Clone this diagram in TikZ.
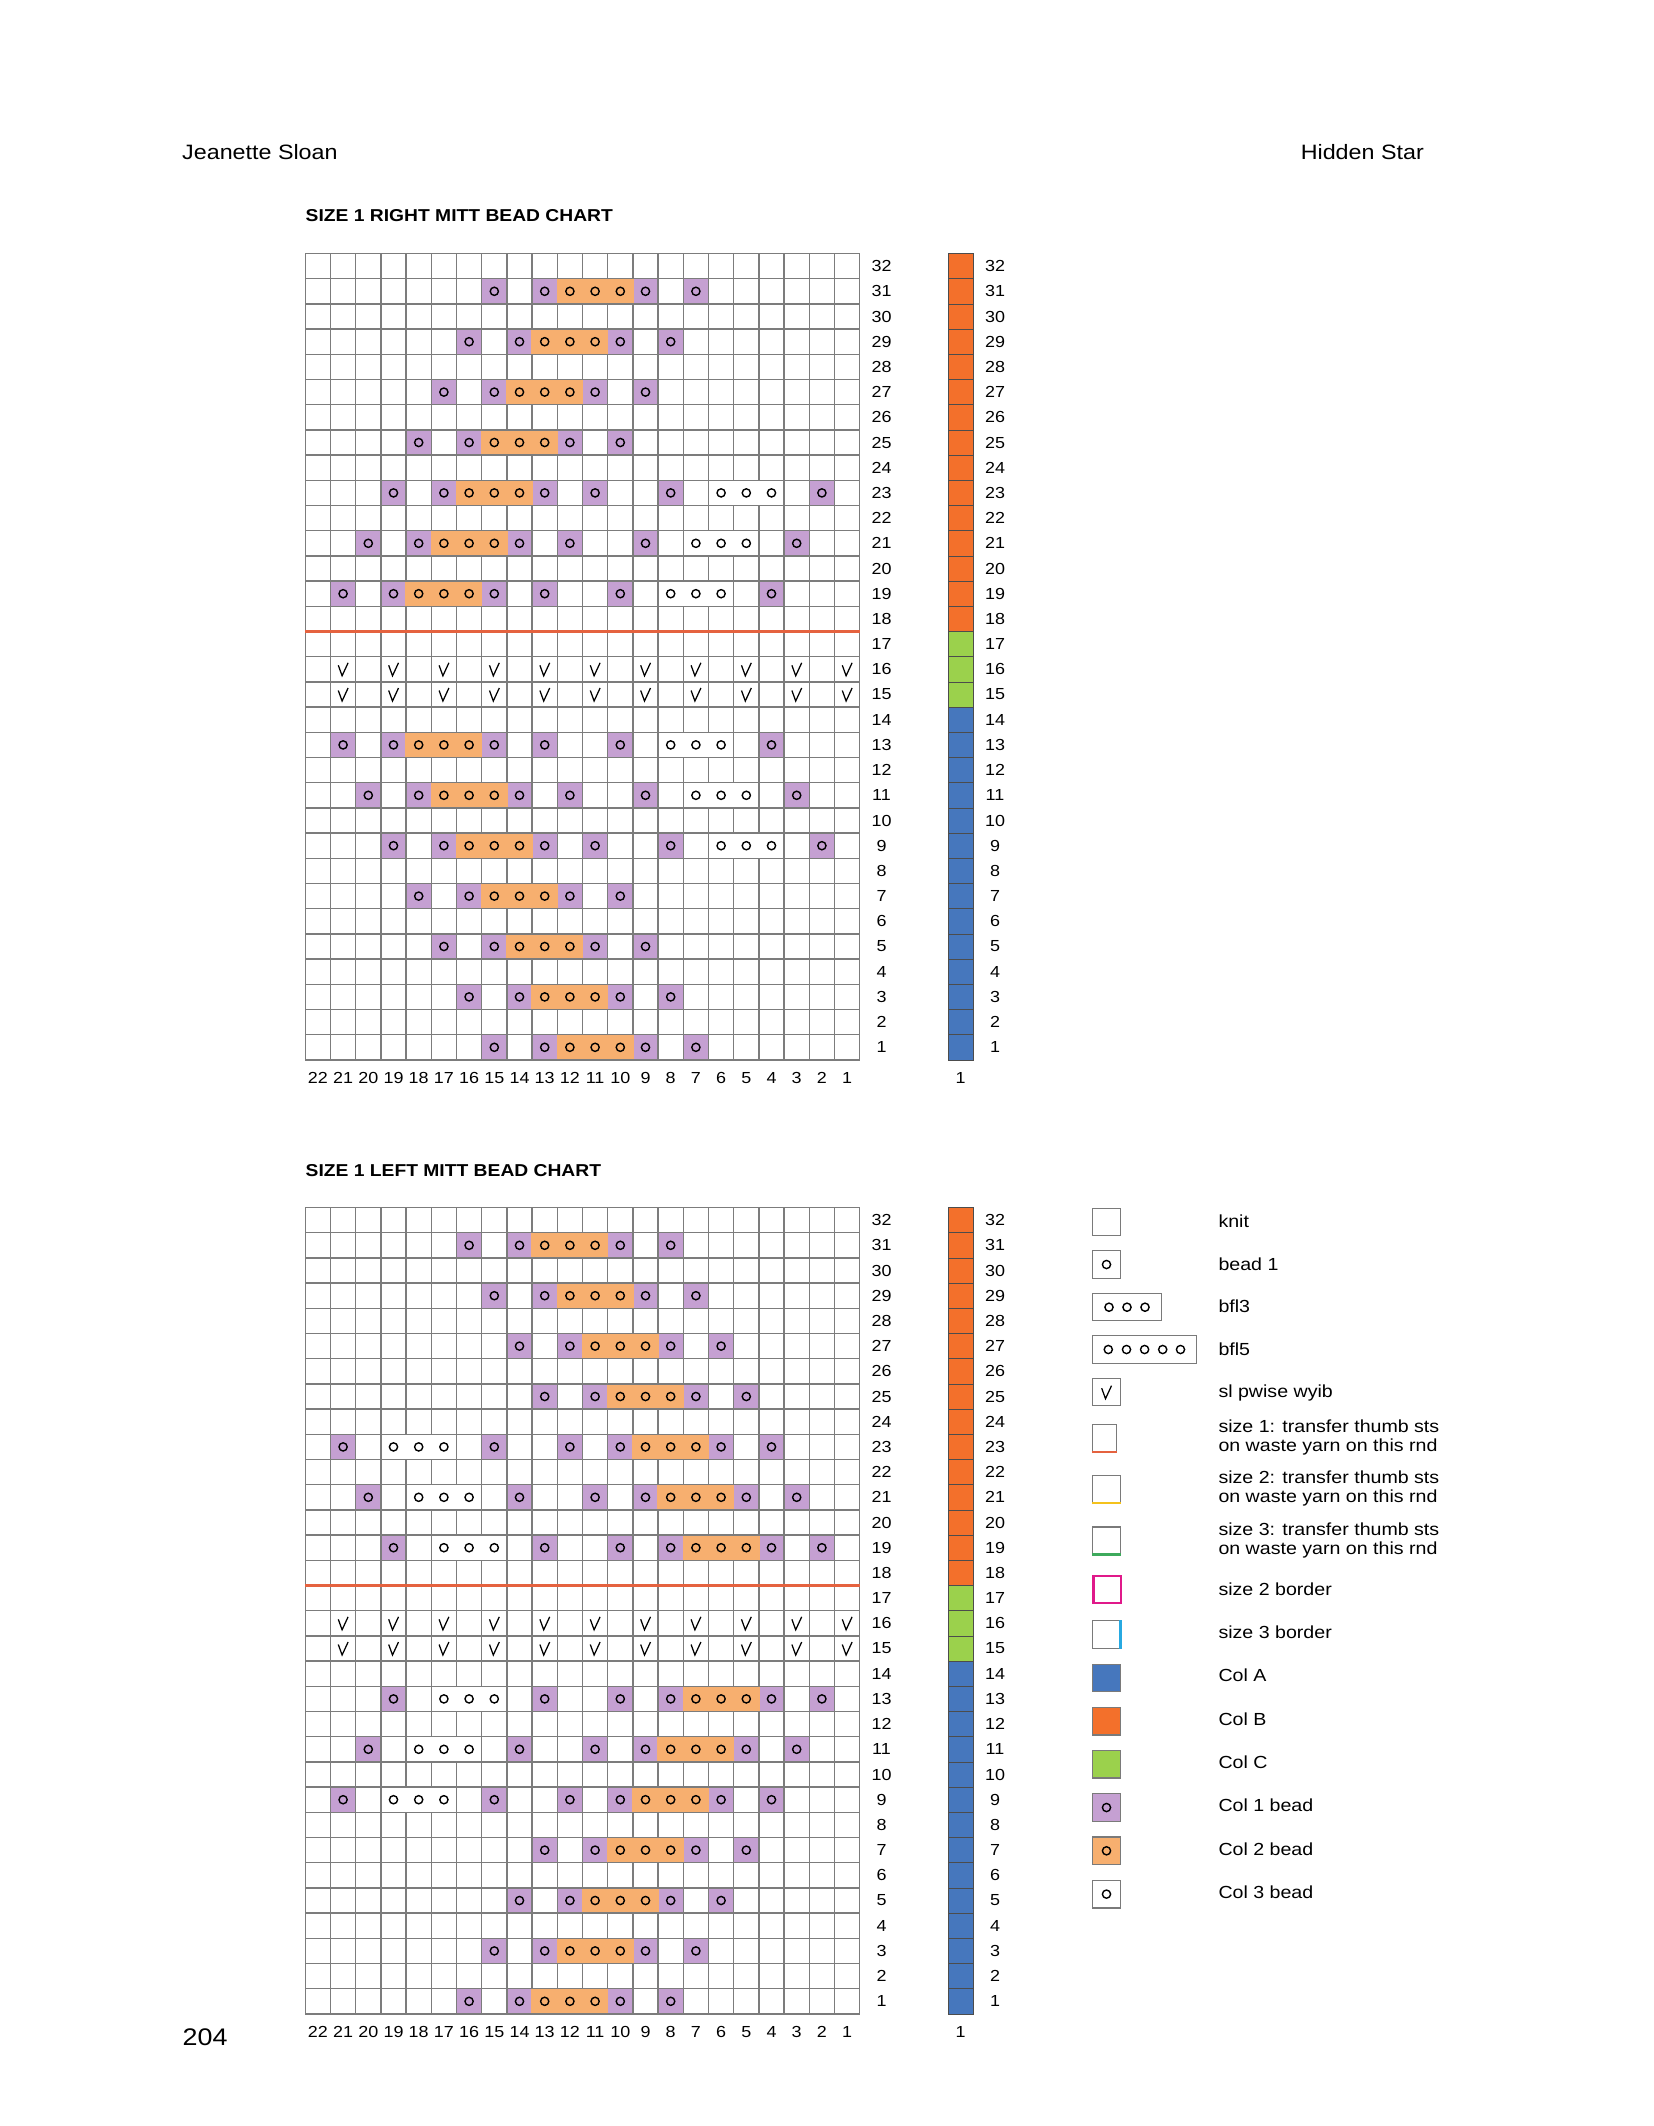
\documentclass[tikz,border=0pt]{standalone}
\usepackage{fontspec}
\usepackage{graphicx}
\setmainfont{Liberation Sans}[FakeStretch=1.12]
\definecolor{pbead}{HTML}{C5A0D2}
\definecolor{obead}{HTML}{F7AF6F}
\definecolor{colA}{HTML}{4677BD}
\definecolor{colB}{HTML}{F3702B}
\definecolor{colC}{HTML}{9BD14C}
\definecolor{thumbred}{HTML}{E5623F}
\definecolor{thumbyellow}{HTML}{F4C21C}
\definecolor{thumbgreen}{HTML}{3DAA5C}
\definecolor{bordmag}{HTML}{E0198A}
\definecolor{bordblue}{HTML}{27A9E1}
\definecolor{gridgray}{HTML}{7C7C7C}
\definecolor{legray}{HTML}{7A7A7A}
\newcommand\csz{25.2}
\newcommand\hl{0.65}
\newcommand\beadpattern{%
\foreach \j in {0,...,6}{%
 \pgfmathtruncatemacro\ra{31-2*\j}%
 \pgfmathtruncatemacro\rb{1+2*\j}%
 \foreach \n in {\ra,\rb}{%
  \pgfmathsetmacro\yt{(32-\n)*\csz}%
  \pgfmathsetmacro\yc{\yt+\csz/2}%
  \foreach \k in {7,9,13,15}{%
    \pgfmathsetmacro\xl{(\k-\j)*\csz}%
    \fill[pbead] (\xl+\hl,\yt+\hl) rectangle (\xl+\csz-\hl,\yt+\csz-\hl);
  }%
  \pgfmathsetmacro\xo{(10-\j)*\csz}%
  \fill[obead] (\xo-\hl,\yt+\hl) rectangle (\xo+3*\csz+\hl,\yt+\csz-\hl);
  \foreach \k in {7,9,10,11,12,13,15}{%
    \pgfmathsetmacro\xc{(\k-\j+0.5)*\csz}%
    \draw[beadring] (\xc,\yc) circle[radius=4.1pt];
  }%
  \ifnum\j>3
    \foreach \k in {18,24}{%
      \pgfmathsetmacro\xl{(\k-\j)*\csz}%
      \fill[pbead] (\xl+\hl,\yt+\hl) rectangle (\xl+\csz-\hl,\yt+\csz-\hl);
      \draw[beadring] (\xl+\csz/2,\yc) circle[radius=4.1pt];
    }%
    \pgfmathsetmacro\xw{(20-\j)*\csz}%
    \fill[white] (\xw+\hl,\yt+\hl) rectangle (\xw+3*\csz-\hl,\yt+\csz-\hl);
    \foreach \k in {0,1,2}{%
      \draw[beadring] (\xw+\k*\csz+\csz/2,\yc) circle[radius=4.1pt];
    }%
  \fi
 }%
}%
}
\newcommand\drawchart[4]{% #1 y0, #2 pattern xshift, #3 pattern xscale, #4 name prefix
 \begin{scope}[shift={(305.3,#1)}]
  \foreach \i in {0,...,22} \draw[gridline] (\i*\csz,0) -- (\i*\csz,32*\csz);
  \foreach \i in {0,...,32} \draw[gridline] (0,\i*\csz) -- (22*\csz,\i*\csz);
  \draw[gridline] (0,0) rectangle (22*\csz,32*\csz);
  \begin{scope}[shift={(#2,0)},xscale=#3]
    \beadpattern
  \end{scope}
  \foreach \n in {15,16}{%
    \foreach \k in {1,3,...,21}{%
      \pgfmathsetmacro\xc{(\k+0.5)*\csz}%
      \pgfmathsetmacro\yc{(32.5-\n)*\csz}%
      \draw[slipmark] (\xc-4.8,\yc-4) -- (\xc-1,\yc+6.5) -- (\xc+5,\yc-6.5);
    }%
  }%
  \draw[thumbline] (0,15*\csz) -- (22*\csz,15*\csz);
  \foreach \n in {1,...,32}{%
    \ifnum\n>17 \def\bc{colB}\else\ifnum\n>14 \def\bc{colC}\else\def\bc{colA}\fi\fi
    \pgfmathsetmacro\yt{(32-\n)*\csz}%
    \pgfmathsetmacro\yc{\yt+\csz/2}%
    \filldraw[fill=\bc, draw=black!70, line width=0.8pt] (642.7,\yt) rectangle ++(25,\csz);
    \node[numlab] (#4L\n) at (576.2,\yc) {\n};
    \node[numlab] (#4R\n) at (689.7,\yc) {\n};
  }%
  \foreach \k in {0,...,21}{%
    \pgfmathtruncatemacro\cn{22-\k}%
    \node[numlab] (#4C\cn) at (\k*\csz+\csz/2,824.1) {\cn};
  }%
  \node[numlab] (#4bar) at (655.2,824.1) {1};
 \end{scope}
}
\begin{document}
\begin{tikzpicture}[x=1pt,y=-1pt,
  gridline/.style={draw=gridgray, line width=1.3pt},
  beadring/.style={draw=black, line width=1.4pt},
  slipmark/.style={draw=black, line width=1.25pt},
  thumbline/.style={draw=thumbred, line width=2.8pt},
  numlab/.style={font=\fontsize{16}{18}\selectfont, inner sep=0pt},
  leglab/.style={font=\fontsize{17.5}{20}\selectfont, inner sep=0pt, anchor=base west},
  legbox/.style={draw=legray, line width=1.3pt},
  headtxt/.style={font=\fontsize{20.8}{24}\selectfont, inner sep=0pt},
  titletxt/.style={font=\bfseries\fontsize{17.2}{20}\selectfont, inner sep=0pt, anchor=base west},
]
\fill[white] (0,0) rectangle (1654,2126);
\useasboundingbox (0,0) rectangle (1654,2126);

\node[headtxt, anchor=base west] (author) at (182,159.5) {Jeanette Sloan};
\node[headtxt, anchor=base east] (pattern) at (1424,159.5) {Hidden Star};
\node[font=\fontsize{24}{28}\selectfont, inner sep=0pt, anchor=base west] (page) at (182.5,2045.5) {204};

\node[titletxt] (titleR) at (305.5,221) {SIZE 1 RIGHT MITT BEAD CHART};
\node[titletxt] (titleL) at (305.5,1176) {SIZE 1 LEFT MITT BEAD CHART};

\drawchart{253.5}{0}{1}{a}
\drawchart{1207.5}{554.4}{-1}{b}

% legend
\draw[legbox] (1092.5,1208.7) rectangle (1120.5,1235.7);
\node[leglab] (lk) at (1218.3,1227.3) {knit};
\draw[legbox] (1092.5,1250.7) rectangle (1120.5,1278.3);
\draw[beadring] (1106.5,1264.5) circle[radius=4.1pt];
\node[leglab] (lb1) at (1218.3,1270) {bead 1};
\draw[legbox] (1092.5,1293.7) rectangle (1161.3,1320.7);
\foreach \x in {1109,1127,1145} \draw[beadring] (\x,1307.2) circle[radius=4.1pt];
\node[leglab] (lb3) at (1218.3,1312.7) {bfl3};
\draw[legbox] (1092.5,1335.7) rectangle (1196.3,1363.3);
\foreach \x in {1108.3,1126.5,1144.6,1162.7,1180.5} \draw[beadring] (\x,1349.5) circle[radius=4.1pt];
\node[leglab] (lb5) at (1218.3,1355) {bfl5};
\draw[legbox] (1092.5,1378.7) rectangle (1120.5,1405.7);
\draw[slipmark] (1101.7,1388.2) -- (1105.5,1398.7) -- (1111.5,1385.7);
\node[leglab] (lsl) at (1218.3,1397.3) {sl pwise wyib};
\draw[legbox] (1092.5,1453) -- (1092.5,1424.3) -- (1116.5,1424.3) -- (1116.5,1453);
\draw[thumbred, line width=2.6pt] (1091.9,1452) -- (1117.1,1452);
\node[leglab] (ls1a) at (1218.3,1432) {size 1: transfer thumb sts};
\node[leglab] (ls1b) at (1218.3,1451.3) {on waste yarn on this rnd};
\draw[legbox] (1092.5,1504) -- (1092.5,1475.7) -- (1120.5,1475.7) -- (1120.5,1504);
\draw[thumbyellow, line width=2.6pt] (1091.9,1503) -- (1121.1,1503);
\node[leglab] (ls2a) at (1218.3,1483.3) {size 2: transfer thumb sts};
\node[leglab] (ls2b) at (1218.3,1502.7) {on waste yarn on this rnd};
\draw[legbox] (1092.5,1555.3) -- (1092.5,1527) -- (1120.5,1527) -- (1120.5,1555.3);
\draw[thumbgreen, line width=2.6pt] (1091.9,1554.3) -- (1121.1,1554.3);
\node[leglab] (ls3a) at (1218.3,1535) {size 3: transfer thumb sts};
\node[leglab] (ls3b) at (1218.3,1554.3) {on waste yarn on this rnd};
\draw[bordmag, line width=2.6pt] (1093.3,1576) rectangle (1121,1603);
\node[leglab] (lsb2) at (1218.3,1595) {size 2 border};
\draw[legbox] (1092.5,1620.7) rectangle (1120.5,1648.3);
\draw[bordblue, line width=2.6pt] (1120.5,1620.2) -- (1120.5,1648.8);
\node[leglab] (lsb3) at (1218.3,1638.3) {size 3 border};
\filldraw[legbox, fill=colA] (1092.5,1664.3) rectangle (1120.5,1691.3);
\node[leglab] (lca) at (1218.3,1681.7) {Col A};
\filldraw[legbox, fill=colB] (1092.5,1707.3) rectangle (1120.5,1735);
\node[leglab] (lcb) at (1218.3,1725) {Col B};
\filldraw[legbox, fill=colC] (1092.5,1750.7) rectangle (1120.5,1778);
\node[leglab] (lcc) at (1218.3,1768.3) {Col C};
\filldraw[legbox, fill=pbead] (1092.5,1793.7) rectangle (1120.5,1821.3);
\draw[beadring] (1106.5,1807.5) circle[radius=4.1pt];
\node[leglab] (lc1) at (1218.3,1811.7) {Col 1 bead};
\filldraw[legbox, fill=obead] (1092.5,1837) rectangle (1120.5,1864.7);
\draw[beadring] (1106.5,1850.8) circle[radius=4.1pt];
\node[leglab] (lc2) at (1218.3,1855) {Col 2 bead};
\draw[legbox] (1092.5,1880.3) rectangle (1120.5,1908);
\draw[beadring] (1106.5,1894.1) circle[radius=4.1pt];
\node[leglab] (lc3) at (1218.3,1898.3) {Col 3 bead};
\end{tikzpicture}
\end{document}
